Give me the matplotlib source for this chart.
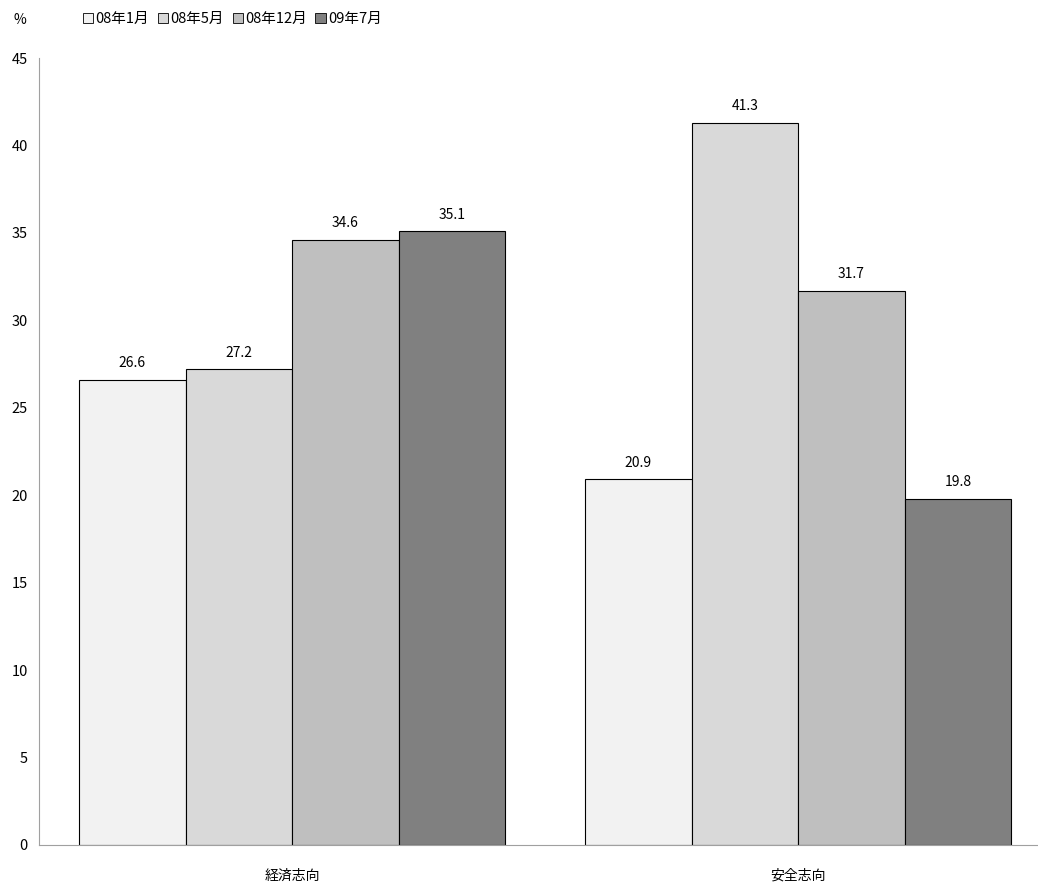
import matplotlib.pyplot as plt
import numpy as np

plt.rcParams['font.family'] = ['Noto Sans CJK JP', 'DejaVu Sans']

categories = ['経済志向', '安全志向']
series_names = ['08年1月', '08年5月', '08年12月', '09年7月']
values = [
    [26.6, 20.9],
    [27.2, 41.3],
    [34.6, 31.7],
    [35.1, 19.8],
]
colors = ['#f2f2f2', '#d9d9d9', '#bfbfbf', '#808080']

fig = plt.figure(figsize=(10.38, 8.84), dpi=100)
ax = fig.add_axes([39 / 1038, 1 - 845 / 884, 1 - 39 / 1038, (845 - 58) / 884])

x = np.arange(len(categories))
w = 0.2105
for i, (name, vals) in enumerate(zip(series_names, values)):
    pos = x + (i - 1.5) * w
    bars = ax.bar(pos, vals, w, color=colors[i], edgecolor='black', linewidth=0.8, label=name)
    for b, v in zip(bars, vals):
        ax.text(b.get_x() + b.get_width() / 2, v + 0.55, f'{v:.1f}', ha='center', va='bottom', fontsize=10)

ax.set_xlim(-0.5, 1.474)
ax.set_ylim(0, 45)
ax.set_yticks(range(0, 46, 5))
ax.set_xticks(x)
ax.set_xticklabels(categories, fontsize=10)
ax.tick_params(axis='y', labelsize=10.5, length=0, pad=8)
ax.tick_params(axis='x', length=0, pad=17)
for s in ['top', 'right']:
    ax.spines[s].set_visible(False)
ax.spines['left'].set_color('#a0a0a0')
ax.spines['bottom'].set_color('#a0a0a0')

fig.text(20 / 1038, 1 - 20 / 884, '%', fontsize=10, ha='center', va='center')
leg = fig.legend(loc='center left', bbox_to_anchor=(70 / 1038, 1 - 19 / 884), ncol=4, frameon=False,
                 fontsize=10.5, handlelength=0.7, handleheight=0.7, handletextpad=0.15, columnspacing=0.6)
for h in leg.legend_handles:
    h.set_linewidth(0.6)

fig.savefig('out.png', dpi=100)
